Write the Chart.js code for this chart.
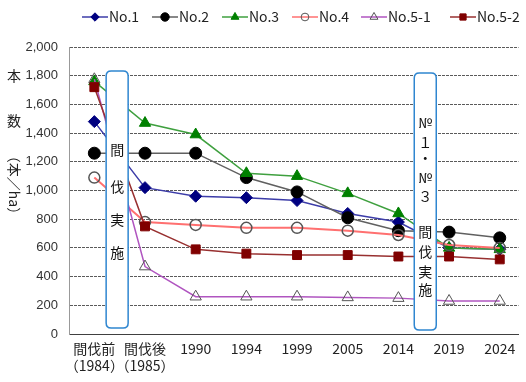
<!DOCTYPE html>
<html><head><meta charset="utf-8">
<script src="https://cdn.jsdelivr.net/npm/chart.js@4"></script>
<style>html,body{margin:0;padding:0;background:#fff}#wrap{width:526px;height:382px}</style>
</head><body><div id="wrap"><canvas id="c" width="526" height="382"></canvas></div>
<script>
const categories = [["間伐前","（1984）"],["間伐後","（1985）"],"1990","1994","1999","2005","2014","2019","2024"];
const seriesNames = ["No.1","No.2","No.3","No.4","No.5-1","No.5-2"];
const no1  = [1480,1020,960,950,930,840,780,600,590];
const no2  = [1260,1260,1260,1090,990,810,720,710,670];
const no3  = [1760,1470,1390,1120,1100,980,840,600,590];
const no4  = [1090,780,760,740,740,720,690,620,600];
const no51 = [1775,470,260,260,260,255,250,230,230];
const no52 = [1720,750,590,560,550,550,540,540,520];
const yTicks = [0,200,400,600,800,1000,1200,1400,1600,1800,2000];
const box1Text = ["間","伐","実","施"];
const box2Text = ["№","１","・","№","３","間","伐","実","施"];

const JP = '"Noto Sans CJK JP", "Liberation Sans", sans-serif';
const styles = [
  {line:'#3c3ca8', fill:'#000080', stroke:'#000080', shape:'rectRot', r:6},
  {line:'#606060', fill:'#000000', stroke:'#000000', shape:'circle', r:6},
  {line:'#3fa03f', fill:'#008000', stroke:'#008000', shape:'triangle', r:6.5},
  {line:'#ff7070', fill:'rgba(255,255,255,0)', stroke:'#555555', shape:'circle', r:5.5, lw:1.5},
  {line:'#b055c0', fill:'rgba(255,255,255,0)', stroke:'#555555', shape:'triangle', r:6.5},
  {line:'#983030', fill:'#800000', stroke:'#800000', shape:'rect', r:6.3}
];
const allSeries = [no1,no2,no3,no4,no51,no52];

const datasets = allSeries.map((arr,i)=>({
  label: seriesNames[i],
  data: arr.map((v,k)=>({x:k,y:v})),
  borderColor: styles[i].line,
  borderWidth: i===3 ? 2 : 1.5,
  backgroundColor: styles[i].fill,
  pointBackgroundColor: styles[i].fill,
  pointBorderColor: styles[i].stroke,
  pointBorderWidth: styles[i].lw || 1,
  pointStyle: styles[i].shape,
  pointRadius: styles[i].r,
  pointHoverRadius: styles[i].r,
  tension: 0,
  order: 6 - i
}));

function roundRect(ctx,x,y,w,h,r){
  ctx.beginPath();
  ctx.moveTo(x+r,y);ctx.lineTo(x+w-r,y);ctx.quadraticCurveTo(x+w,y,x+w,y+r);
  ctx.lineTo(x+w,y+h-r);ctx.quadraticCurveTo(x+w,y+h,x+w-r,y+h);
  ctx.lineTo(x+r,y+h);ctx.quadraticCurveTo(x,y+h,x,y+h-r);
  ctx.lineTo(x,y+r);ctx.quadraticCurveTo(x,y,x+r,y);ctx.closePath();
}

const overlay = {
  id:'overlay',
  afterDatasetsDraw(chart){
    const ctx = chart.ctx, xs = chart.scales.x, ys = chart.scales.y;
    const boxes = [
      {xc:0.45, y0:42, y1:1833, text:box1Text},
      {xc:6.53, y0:28, y1:1819, text:box2Text}
    ];
    ctx.save();
    boxes.forEach((b,bi)=>{
      const cx = xs.getPixelForValue(b.xc);
      const top = ys.getPixelForValue(b.y1), bot = ys.getPixelForValue(b.y0);
      const w = 22;
      roundRect(ctx, cx-w/2, top, w, bot-top, 5);
      ctx.fillStyle='#fff'; ctx.fill();
      ctx.strokeStyle='#2f86d0'; ctx.lineWidth=1.5; ctx.stroke();
      ctx.fillStyle='#111'; ctx.textAlign='center'; ctx.textBaseline='middle';
      ctx.font = '14px '+JP;
      const offs = bi===0 ? [79,116,149,182] : [50,70,85,105,124,159,179,199,217];
      b.text.forEach((t,k)=>ctx.fillText(t,cx,top+offs[k]));
    });
    ctx.restore();
  },
  afterDraw(chart){
    const ctx = chart.ctx;
    ctx.save();
    ctx.fillStyle='#222'; ctx.font='14px '+JP; ctx.textAlign='center'; ctx.textBaseline='middle';
    ctx.fillText('本',14,76);
    ctx.fillText('数',14,121);
    ctx.translate(14,185); ctx.rotate(Math.PI/2);
    ctx.fillText('（本／ha）',0,0);
    ctx.restore();
    ctx.save();
    const starts=[82,152,222,292,361,450];
    ctx.font='14px '+JP; ctx.textBaseline='middle'; ctx.textAlign='left';
    starts.forEach((sx,i)=>{
      const y=17, st=styles[i];
      ctx.strokeStyle=st.line; ctx.lineWidth=1.5;
      ctx.beginPath(); ctx.moveTo(sx,y); ctx.lineTo(sx+26,y); ctx.stroke();
      ctx.fillStyle=st.fill; ctx.strokeStyle=st.stroke; ctx.lineWidth=1;
      Chart.helpers.drawPoint(ctx,{pointStyle:st.shape, radius: st.r*0.7, borderWidth:1}, sx+13, y);
      ctx.fillStyle='#222';
      ctx.fillText(seriesNames[i], sx+27, y);
    });
    ctx.restore();
  }
};

new Chart(document.getElementById('c'),{
  type:'line',
  data:{datasets},
  options:{
    responsive:false, animation:false,
    layout:{padding:{top:47,right:0,left:0,bottom:0}},
    plugins:{legend:{display:false},tooltip:{enabled:false}},
    scales:{
      x:{type:'linear', min:-0.5, max:8.37,
        afterBuildTicks(s){ s.ticks = categories.map((c,k)=>({value:k})); },
        afterFit(s){ s.height = 48; },
        ticks:{autoSkip:false, maxRotation:0, padding:6, color:'#222',
          font:{family:JP,size:14}, callback:(v)=>categories[v]},
        grid:{display:false, drawTicks:false},
        border:{color:'#404040', width:1}
      },
      y:{min:0,max:2000,
        afterBuildTicks(s){ s.ticks = yTicks.map(v=>({value:v})); },
        afterFit(s){ s.width = 69; },
        ticks:{padding:11, color:'#333', font:{family:'"Liberation Sans", sans-serif', size:13},
          callback:(v)=>v.toLocaleString('en-US')},
        grid:{color:'#5a5a5a', drawTicks:false, lineWidth:1},
        border:{color:'#999', width:1, dash:[3,1]}
      }
    }
  },
  plugins:[overlay]
});
</script></body></html>
